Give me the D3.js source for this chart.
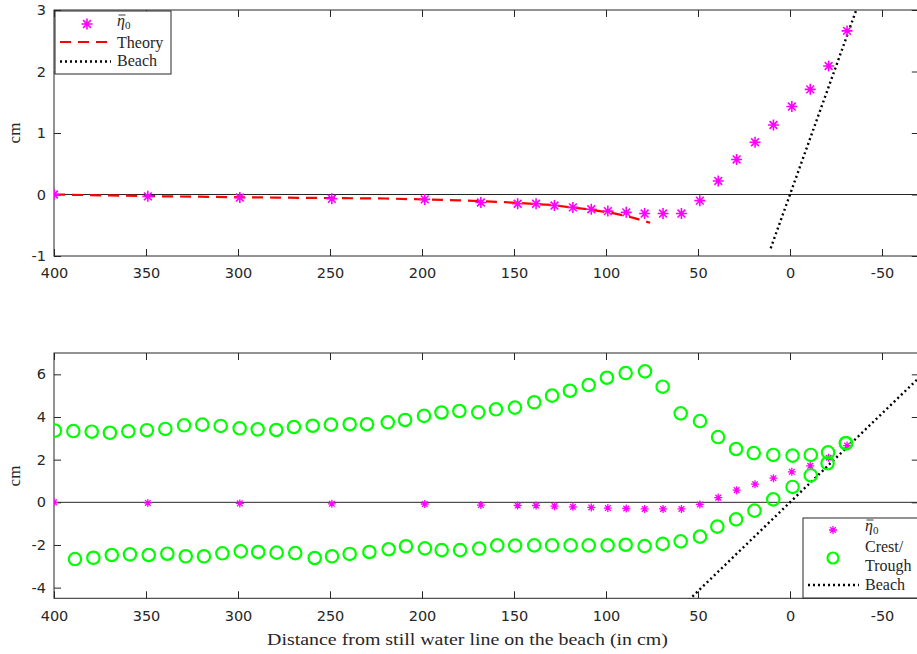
<!DOCTYPE html>
<html>
<head>
<meta charset="utf-8">
<script src="https://cdn.jsdelivr.net/npm/d3@7"></script>
<style>
  body { margin: 0; background: #fff; }
  svg { display: block; }
  .lbl { font-family: "Liberation Serif", "Times New Roman", serif; font-size: 17px; fill: #262626; }
  .leg { font-family: "Liberation Serif", "Times New Roman", serif; font-size: 16px; fill: #262626; }
</style>
</head>
<body>
<svg id="chart" width="917" height="654"></svg>
<script>
// mean water level eta0 (cm), measured positions (cm from still water line)
var etaX = [400, 349, 299, 249, 198.5, 168, 148, 138, 128, 118, 108, 99, 89, 79, 69, 59, 49, 39, 29, 19, 9, -1, -11, -21, -31];
var etaY = [0, -0.03, -0.05, -0.07, -0.08, -0.13, -0.15, -0.15, -0.18, -0.21, -0.24, -0.27, -0.29, -0.31, -0.31, -0.31, -0.10, 0.22, 0.57, 0.85, 1.13, 1.43, 1.71, 2.09, 2.66];

// theory curve
var theoryX = [400, 340, 280, 220, 180, 155, 130, 110, 95, 85, 76];
var theoryY = [0, -0.03, -0.05, -0.065, -0.095, -0.125, -0.17, -0.24, -0.31, -0.38, -0.46];

// beach line (top panel and bottom panel)
var beachTopX = [10.5, -36];
var beachTopY = [-0.875, 3.0];
var beachBotX = [55, -70];
var beachBotY = [-4.58, 5.83];

// crest and trough
var crestX = [399.5, 389.5, 379.5, 369.6, 359.6, 349.5, 339.5, 329.3, 319.4, 309.4, 299.1, 289.3, 279.2, 269.6, 259.4, 249.5, 239.3, 229.9, 218.6, 209.2, 198.9, 189.4, 179.7, 169.4, 159.8, 149.5, 139, 129.3, 119.6, 109.4, 99.5, 89.3, 78.8, 69.2, 59.4, 48.9, 39.1, 29.3, 19.7, 9.1, -1.4, -11.3, -20.7, -30.4];
var crestY = [3.36, 3.34, 3.31, 3.26, 3.33, 3.38, 3.44, 3.61, 3.64, 3.58, 3.47, 3.42, 3.39, 3.53, 3.59, 3.64, 3.66, 3.66, 3.75, 3.86, 4.05, 4.21, 4.28, 4.22, 4.36, 4.44, 4.69, 5.00, 5.23, 5.50, 5.84, 6.06, 6.14, 5.42, 4.17, 3.81, 3.06, 2.50, 2.31, 2.22, 2.19, 2.22, 2.34, 2.78];
var troughX = [388.6, 378.6, 368.6, 358.7, 348.5, 338.4, 328.4, 318.5, 308.5, 298.5, 289, 279, 268.9, 258.3, 248.9, 239.3, 228.6, 218.1, 208.7, 198.4, 189.3, 179.3, 168.9, 159.1, 149.4, 139, 129.3, 119.2, 109.4, 99.1, 89.3, 79, 69.2, 59.4, 48.9, 39.5, 29.3, 19.3, 9.1, -1.4, -11.3, -20.4, -30.4];
var troughY = [-2.66, -2.60, -2.47, -2.44, -2.47, -2.41, -2.53, -2.53, -2.39, -2.30, -2.33, -2.36, -2.38, -2.61, -2.53, -2.42, -2.33, -2.20, -2.06, -2.16, -2.24, -2.24, -2.17, -2.02, -2.03, -2.02, -2.02, -2.02, -2.02, -2.02, -1.99, -2.05, -1.95, -1.83, -1.61, -1.14, -0.80, -0.39, 0.14, 0.72, 1.26, 1.83, 2.76];

var xTicks = [400, 350, 300, 250, 200, 150, 100, 50, 0, -50];
var yTicksTop = [-1, 0, 1, 2, 3];
var yTicksBot = [-4, -2, 0, 2, 4, 6];

var svg = d3.select("#chart");
var axisColor = "#262626";
var magenta = "#ff00ff";
var green = "#00ff00";

var x = d3.scaleLinear().domain([400, -70]).range([54, 918.8]);
var yTop = d3.scaleLinear().domain([-1, 3]).range([256, 10]);
var yBot = d3.scaleLinear().domain([-4.5, 7]).range([598.3, 353]);

var plain = function (d) { return String(d); };

function starPath(s) {
    var d = s * 0.7071;
    return "M" + (-s) + ",0H" + s + "M0," + (-s) + "V" + s +
        "M" + (-d) + "," + (-d) + "L" + d + "," + d +
        "M" + (-d) + "," + d + "L" + d + "," + (-d);
}

// draws box, ticks on all four sides, and zero line
function drawAxes(y, yTicks, id) {
    var r = y.range();
    var xr = x.range();
    var g = svg.append("g");

    g.append("g")
        .attr("transform", "translate(0," + r[0] + ")")
        .call(d3.axisBottom(x).tickValues(xTicks).tickFormat(plain).tickSizeInner(-7).tickSizeOuter(0).tickPadding(12));
    g.append("g")
        .attr("transform", "translate(0," + r[1] + ")")
        .call(d3.axisTop(x).tickValues(xTicks).tickSizeInner(-7).tickSizeOuter(0).tickFormat(""));
    g.append("g")
        .attr("transform", "translate(" + xr[0] + ",0)")
        .call(d3.axisLeft(y).tickValues(yTicks).tickFormat(plain).tickSizeInner(-7).tickSizeOuter(0).tickPadding(8));
    g.append("g")
        .attr("transform", "translate(" + xr[1] + ",0)")
        .call(d3.axisRight(y).tickValues(yTicks).tickSizeInner(-7).tickSizeOuter(0).tickFormat(""));

    g.selectAll(".domain").remove();
    g.selectAll("line").attr("stroke", axisColor);
    g.selectAll("text")
        .attr("fill", axisColor)
        .style("font-family", "'DejaVu Sans', sans-serif")
        .style("font-size", "14.5px");

    g.append("rect")
        .attr("x", xr[0]).attr("y", r[1])
        .attr("width", xr[1] - xr[0]).attr("height", r[0] - r[1])
        .attr("fill", "none").attr("stroke", axisColor).attr("stroke-width", 1);

    // zero line
    g.append("line")
        .attr("x1", xr[0]).attr("x2", xr[1])
        .attr("y1", y(0)).attr("y2", y(0))
        .attr("stroke", axisColor).attr("stroke-width", 1);

    svg.append("clipPath").attr("id", id)
        .append("rect")
        .attr("x", xr[0]).attr("y", r[1])
        .attr("width", xr[1] - xr[0]).attr("height", r[0] - r[1]);
}

drawAxes(yTop, yTicksTop, "clipTop");
drawAxes(yBot, yTicksBot, "clipBot");

function lineOf(xs, ys, y) {
    return d3.line().x(function (d) { return x(d); }).y(function (d, i) { return y(ys[i]); })(xs);
}

// ---- top panel ----
var topPanel = svg.append("g").attr("clip-path", "url(#clipTop)");

topPanel.append("path")
    .attr("d", lineOf(theoryX, theoryY, yTop))
    .attr("fill", "none").attr("stroke", "#ff0000")
    .attr("stroke-width", 2.2).attr("stroke-dasharray", "11,7");

topPanel.append("path")
    .attr("d", lineOf(beachTopX, beachTopY, yTop))
    .attr("fill", "none").attr("stroke", "#000")
    .attr("stroke-width", 2.4).attr("stroke-dasharray", "2,3");

topPanel.selectAll(".eta")
    .data(etaX)
    .enter()
    .append("path")
    .attr("transform", function (d, i) { return "translate(" + x(d) + "," + yTop(etaY[i]) + ")"; })
    .attr("d", starPath(5.5))
    .attr("stroke", magenta).attr("stroke-width", 1.6).attr("fill", "none");

// ---- bottom panel ----
var botPanel = svg.append("g").attr("clip-path", "url(#clipBot)");

botPanel.append("path")
    .attr("d", lineOf(beachBotX, beachBotY, yBot))
    .attr("fill", "none").attr("stroke", "#000")
    .attr("stroke-width", 2.4).attr("stroke-dasharray", "2,3");

botPanel.selectAll(".eta")
    .data(etaX)
    .enter()
    .append("path")
    .attr("transform", function (d, i) { return "translate(" + x(d) + "," + yBot(etaY[i]) + ")"; })
    .attr("d", starPath(4))
    .attr("stroke", magenta).attr("stroke-width", 1.3).attr("fill", "none");

botPanel.selectAll(".crest")
    .data(crestX)
    .enter()
    .append("circle")
    .attr("cx", function (d) { return x(d); })
    .attr("cy", function (d, i) { return yBot(crestY[i]); })
    .attr("r", 6.2)
    .attr("fill", "none").attr("stroke", green).attr("stroke-width", 2.2);

botPanel.selectAll(".trough")
    .data(troughX)
    .enter()
    .append("circle")
    .attr("cx", function (d) { return x(d); })
    .attr("cy", function (d, i) { return yBot(troughY[i]); })
    .attr("r", 6.2)
    .attr("fill", "none").attr("stroke", green).attr("stroke-width", 2.2);

// ---- labels ----
svg.append("text").attr("class", "lbl")
    .attr("transform", "translate(20,133) rotate(-90)")
    .attr("text-anchor", "middle").text("cm");
svg.append("text").attr("class", "lbl")
    .attr("transform", "translate(20,476) rotate(-90)")
    .attr("text-anchor", "middle").text("cm");
svg.append("text").attr("class", "lbl")
    .attr("x", 267).attr("y", 645)
    .attr("textLength", 401).attr("lengthAdjust", "spacingAndGlyphs")
    .text("Distance from still water line on the beach (in cm)");

// eta-bar-0 label
function etaLabel(g, tx, ty) {
    var t = g.append("text").attr("class", "leg").attr("x", tx).attr("y", ty);
    t.append("tspan").style("font-style", "italic").text("η");
    t.append("tspan").attr("dy", 3).style("font-size", "11px").text("0");
    g.append("line")
        .attr("x1", tx + 1.5).attr("x2", tx + 8.5)
        .attr("y1", ty - 11).attr("y2", ty - 11)
        .attr("stroke", "#262626").attr("stroke-width", 0.9);
}

// top legend
var lg1 = svg.append("g");
lg1.append("rect").attr("x", 55).attr("y", 11).attr("width", 116).attr("height", 63)
    .attr("fill", "#fff").attr("stroke", axisColor).attr("stroke-width", 1);
lg1.append("path").attr("transform", "translate(87,24)").attr("d", starPath(5.5))
    .attr("stroke", magenta).attr("stroke-width", 1.6).attr("fill", "none");
etaLabel(lg1, 117, 26);
lg1.append("line").attr("x1", 60).attr("x2", 113).attr("y1", 42).attr("y2", 42)
    .attr("stroke", "#ff0000").attr("stroke-width", 2.2).attr("stroke-dasharray", "11,7");
lg1.append("text").attr("class", "leg").attr("x", 117).attr("y", 47.5).text("Theory");
lg1.append("line").attr("x1", 60).attr("x2", 111).attr("y1", 61.5).attr("y2", 61.5)
    .attr("stroke", "#000").attr("stroke-width", 2.4).attr("stroke-dasharray", "2,3");
lg1.append("text").attr("class", "leg").attr("x", 117).attr("y", 66).text("Beach");

// bottom legend
var lg2 = svg.append("g");
lg2.append("rect").attr("x", 803).attr("y", 518).attr("width", 120).attr("height", 80)
    .attr("fill", "#fff").attr("stroke", axisColor).attr("stroke-width", 1);
lg2.append("path").attr("transform", "translate(833,530)").attr("d", starPath(4))
    .attr("stroke", magenta).attr("stroke-width", 1.3).attr("fill", "none");
etaLabel(lg2, 865, 531);
lg2.append("circle").attr("cx", 833).attr("cy", 558).attr("r", 5.5)
    .attr("fill", "none").attr("stroke", green).attr("stroke-width", 2.2);
lg2.append("text").attr("class", "leg").attr("x", 865).attr("y", 552).text("Crest/");
lg2.append("text").attr("class", "leg").attr("x", 865).attr("y", 571).text("Trough");
lg2.append("line").attr("x1", 808).attr("x2", 859).attr("y1", 585).attr("y2", 585)
    .attr("stroke", "#000").attr("stroke-width", 2.4).attr("stroke-dasharray", "2,3");
lg2.append("text").attr("class", "leg").attr("x", 865).attr("y", 590).text("Beach");
</script>
</body>
</html>
